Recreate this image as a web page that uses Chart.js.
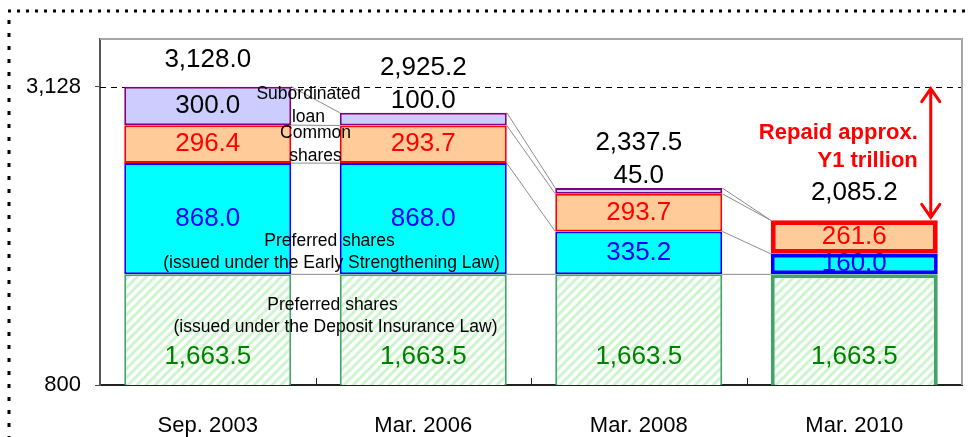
<!DOCTYPE html>
<html>
<head>
<meta charset="utf-8">
<script src="https://cdn.jsdelivr.net/npm/chart.js@4.4.1/dist/chart.umd.min.js"></script>
<style>
  html, body { margin: 0; padding: 0; background: #fff; }
  #wrap { width: 970px; height: 437px; position: relative; }
</style>
</head>
<body>
<div id="wrap"><canvas id="chart"></canvas></div>
<script>
// --- data ---
const categories = ['Sep. 2003', 'Mar. 2006', 'Mar. 2008', 'Mar. 2010'];
const depositInsuranceShares = [1663.5, 1663.5, 1663.5, 1663.5];
const earlyStrengtheningShares = [868.0, 868.0, 335.2, 160.0];
const commonShares = [296.4, 293.7, 293.7, 261.6];
const subordinatedLoan = [300.0, 100.0, 45.0, 0];
const totals = [3128.0, 2925.2, 2337.5, 2085.2];
const yTicks = [800, 3128];
const peakLevel = 3128;

const FONT = '"Liberation Sans", Arial, sans-serif';
const fmt1 = v => v.toLocaleString('en-US', { minimumFractionDigits: 1, maximumFractionDigits: 1 });

// light green diagonal hatch for the deposit insurance shares
function makeHatch() {
    const p = 9;
    const c = document.createElement('canvas');
    c.width = p; c.height = p;
    const g = c.getContext('2d');
    g.fillStyle = '#ffffff';
    g.fillRect(0, 0, p, p);
    g.strokeStyle = '#cdf5cd';
    g.lineWidth = 3;
    g.beginPath();
    g.moveTo(-2, p + 2); g.lineTo(p + 2, -2);
    g.moveTo(-2, 2); g.lineTo(2, -2);
    g.moveTo(p - 2, p + 2); g.lineTo(p + 2, p - 2);
    g.stroke();
    return g.createPattern(c, 'repeat');
}

function text(ctx, str, x, y, opts) {
    ctx.save();
    ctx.font = (opts.bold ? 'bold ' : '') + opts.size + 'px ' + FONT;
    ctx.fillStyle = opts.color || '#000';
    ctx.textAlign = opts.align || 'center';
    ctx.textBaseline = 'middle';
    ctx.fillText(str, x, y);
    ctx.restore();
}

const decorPlugin = {
    id: 'decor',
    beforeDraw(chart) {
        // dotted frame round the figure
        const ctx = chart.ctx;
        ctx.save();
        ctx.strokeStyle = '#000';
        ctx.lineWidth = 3;
        ctx.setLineDash([3, 6]);
        ctx.beginPath();
        ctx.moveTo(8, 11); ctx.lineTo(chart.width, 11);
        ctx.stroke();
        ctx.setLineDash([4, 9]);
        ctx.beginPath();
        ctx.moveTo(9, 20); ctx.lineTo(9, chart.height);
        ctx.stroke();
        ctx.restore();
    },
    beforeDatasetsDraw(chart) {
        const ctx = chart.ctx;
        const area = chart.chartArea;
        const yScale = chart.scales.y;
        // dashed reference line at the peak
        const py = Math.round(yScale.getPixelForValue(peakLevel)) + 0.5;
        ctx.save();
        ctx.strokeStyle = '#000';
        ctx.lineWidth = 1;
        ctx.setLineDash([6, 5]);
        ctx.beginPath();
        ctx.moveTo(area.left, py); ctx.lineTo(area.right, py);
        ctx.stroke();
        ctx.setLineDash([]);
        // series lines between neighbouring bars
        ctx.strokeStyle = '#8c8c8c';
        chart.data.datasets.forEach((ds, d) => {
            const meta = chart.getDatasetMeta(d);
            for (let i = 0; i < meta.data.length - 1; i++) {
                const a = meta.data[i], b = meta.data[i + 1];
                ctx.beginPath();
                ctx.moveTo(a.x + a.width / 2, a.y);
                ctx.lineTo(b.x - b.width / 2, b.y);
                ctx.stroke();
            }
        });
        ctx.restore();
    },
    afterDatasetsDraw(chart) {
        const ctx = chart.ctx;
        const area = chart.chartArea;
        const yScale = chart.scales.y;
        const m0 = chart.getDatasetMeta(0).data;
        const m1 = chart.getDatasetMeta(1).data;
        const m2 = chart.getDatasetMeta(2).data;
        const m3 = chart.getDatasetMeta(3).data;
        const S = 26;

        categories.forEach((c, i) => {
            const g = m0[i], b = m1[i], r = m2[i], s = m3[i];
            text(ctx, fmt1(depositInsuranceShares[i]), g.x, Math.min(g.base, area.bottom) - 28, { size: S, color: '#008000' });
            text(ctx, fmt1(earlyStrengtheningShares[i]), b.x, (b.y + b.base) / 2, { size: S, color: '#0000ff' });
            text(ctx, fmt1(commonShares[i]), r.x, (r.y + r.base) / 2, { size: S, color: '#ff0000' });
            let above = false;
            if (subordinatedLoan[i] > 0) {
                if (s.base - s.y > 28) {
                    text(ctx, fmt1(subordinatedLoan[i]), s.x, (s.y + s.base) / 2, { size: S, color: '#000' });
                } else {
                    above = true;
                    text(ctx, fmt1(subordinatedLoan[i]), s.x, s.y - 12, { size: S, color: '#000' });
                }
            }
            text(ctx, fmt1(totals[i]), s.x, s.y - (above ? 45 : 27), { size: S, color: '#000' });
        });

        // series names, placed in the gap between the first two bars
        const gx = (m0[0].x + m0[1].x) / 2;
        const N = 17.5;
        text(ctx, 'Subordinated', gx - 7, m3[0].y + 7, { size: N });
        text(ctx, 'loan', gx - 7, m3[0].y + 30, { size: N });
        text(ctx, 'Common', gx, m2[0].y + 8, { size: N });
        text(ctx, 'shares', gx, m2[0].y + 31, { size: N });
        text(ctx, 'Preferred shares', gx + 14, m1[0].base - 33, { size: N });
        text(ctx, '(issued under the Early Strengthening Law)', gx + 16, m1[0].base - 11, { size: N });
        text(ctx, 'Preferred shares', gx + 17, m1[0].base + 31, { size: N });
        text(ctx, '(issued under the Deposit Insurance Law)', gx + 20, m1[0].base + 53, { size: N });

        // repayment arrow
        const last = m3[m3.length - 1];
        const ax = last.x + last.width / 2 - 7;
        const y1 = yScale.getPixelForValue(peakLevel) + 2;
        const y2 = last.y - 3;
        ctx.save();
        ctx.strokeStyle = '#ff0000';
        ctx.lineWidth = 3;
        ctx.lineCap = 'round';
        ctx.beginPath();
        ctx.moveTo(ax, y1); ctx.lineTo(ax, y2);
        ctx.moveTo(ax - 9, y1 + 13); ctx.lineTo(ax, y1); ctx.lineTo(ax + 9, y1 + 13);
        ctx.moveTo(ax - 9, y2 - 13); ctx.lineTo(ax, y2); ctx.lineTo(ax + 9, y2 - 13);
        ctx.stroke();
        ctx.restore();
        text(ctx, 'Repaid approx.', ax - 13, y1 + 44, { size: 22, bold: true, color: '#ff0000', align: 'right' });
        text(ctx, 'Y1 trillion', ax - 13, y1 + 72, { size: 22, bold: true, color: '#ff0000', align: 'right' });
    },
    afterDraw(chart) {
        const ctx = chart.ctx;
        const area = chart.chartArea;
        const xScale = chart.scales.x;
        ctx.save();
        // grey top / right frame of the plot
        ctx.strokeStyle = '#a6a6a6';
        ctx.lineWidth = 2;
        ctx.beginPath();
        ctx.moveTo(area.left, area.top); ctx.lineTo(area.right, area.top); ctx.lineTo(area.right, area.bottom);
        ctx.stroke();
        // inside ticks between categories
        ctx.strokeStyle = '#222';
        ctx.lineWidth = 1;
        for (let i = 0; i < categories.length - 1; i++) {
            const x = Math.round(xScale.getPixelForValue(i + 0.5)) + 0.5;
            ctx.beginPath();
            ctx.moveTo(x, area.bottom); ctx.lineTo(x, area.bottom - 7);
            ctx.stroke();
        }
        ctx.restore();
    }
};

const hatch = makeHatch();

new Chart(document.getElementById('chart'), {
    type: 'bar',
    data: {
        labels: categories,
        datasets: [{
            label: 'Preferred shares (Deposit Insurance Law)',
            data: depositInsuranceShares,
            backgroundColor: hatch,
            borderColor: '#44a36a',
            borderWidth: [2, 2, 2, 4]
        }, {
            label: 'Preferred shares (Early Strengthening Law)',
            data: earlyStrengtheningShares,
            backgroundColor: '#00ffff',
            borderColor: '#0000ff',
            borderWidth: [2, 2, 2, 4]
        }, {
            label: 'Common shares',
            data: commonShares,
            backgroundColor: '#ffcc99',
            borderColor: '#ff0000',
            borderWidth: [2, 2, 2, 5]
        }, {
            label: 'Subordinated loan',
            data: subordinatedLoan,
            backgroundColor: '#ccccff',
            borderColor: '#800080',
            borderWidth: [2, 2, 2, 0]
        }].map(ds => Object.assign(ds, {
            borderSkipped: false,
            categoryPercentage: 1,
            barPercentage: 0.775,
            clip: 0
        }))
    },
    options: {
        responsive: true,
        maintainAspectRatio: false,
        animation: false,
        layout: { padding: { top: 39, right: 8, left: 0, bottom: 0 } },
        plugins: {
            legend: { display: false },
            tooltip: { enabled: false }
        },
        scales: {
            x: {
                stacked: true,
                grid: { display: false },
                border: { display: true, color: '#222', width: 2 },
                ticks: { color: '#000', font: { family: FONT, size: 22 }, padding: 20 },
                afterFit: s => { s.height = 52; }
            },
            y: {
                stacked: true,
                min: 800,
                max: 3500,
                afterBuildTicks: s => { s.ticks = yTicks.map(v => ({ value: v })); },
                grid: { drawOnChartArea: false, tickLength: 5, color: '#444' },
                border: { color: '#555', width: 2 },
                ticks: {
                    color: '#000',
                    font: { family: FONT, size: 22 },
                    padding: 14,
                    callback: v => v.toLocaleString('en-US')
                },
                afterFit: s => { s.width = 100; }
            }
        }
    },
    plugins: [decorPlugin]
});
</script>
</body>
</html>
